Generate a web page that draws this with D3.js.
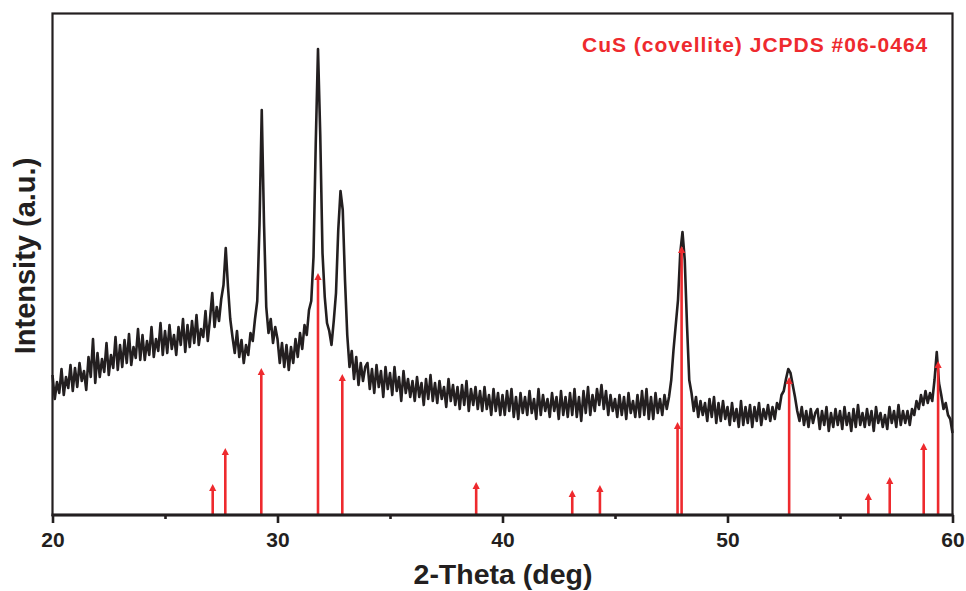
<!DOCTYPE html>
<html><head><meta charset="utf-8">
<script src="https://cdn.jsdelivr.net/npm/d3@7"></script>
<style>
body{margin:0;background:#fff;}
svg{display:block;font-family:"Liberation Sans",Arial,sans-serif;}
</style></head>
<body><svg id="c" width="966" height="591"></svg>
<script>
// Scan: 2-theta from 20 to 60 deg in 0.1 deg steps
const scanStart = 20, scanStep = 0.1;
const intensity = [
140,116,133,122,146,120,138,127,150,124,
147,128,152,134,144,125,158,138,176,132,
162,138,156,143,172,140,160,147,178,145,
170,148,175,152,181,150,168,157,186,155,
180,155,174,160,188,158,176,164,192,160,
184,162,190,166,180,160,188,170,196,163,
190,168,194,172,200,170,186,178,204,174,
196,222,188,208,194,216,230,267,228,196,
178,162,184,158,175,152,170,160,182,174,
196,214,290,405,292,208,182,196,172,188,
176,152,172,148,170,145,168,152,176,158,
182,166,190,180,205,214,258,372,466,380,
262,218,192,184,170,194,222,285,324,305,
235,180,148,164,136,158,130,152,134,148,
152,126,146,122,150,128,144,118,148,126,
142,120,148,124,138,114,144,122,136,118,
134,114,138,118,132,110,136,116,140,114,
132,112,134,116,128,108,136,114,130,110,
128,106,130,110,134,104,126,110,128,106,
124,104,128,106,120,100,126,104,122,100,
120,100,124,104,126,98,118,96,122,102,
118,100,124,102,116,96,126,100,120,104,
116,98,122,104,118,96,124,100,118,98,
122,100,126,98,118,94,124,102,128,100,
120,104,126,110,130,106,124,100,120,104,
116,98,120,100,118,96,122,102,114,98,
120,98,124,100,126,96,118,96,122,102,
116,100,120,106,118,135,165,190,215,262,
283,255,190,135,122,104,118,98,114,100,
112,94,116,98,118,92,112,94,114,96,
108,90,112,94,106,88,114,90,108,92,
110,88,108,94,112,90,106,96,110,94,
108,96,112,106,120,124,136,146,142,130,
118,104,94,108,90,104,88,106,92,102,
106,86,104,90,108,84,102,88,106,90,
104,86,108,90,102,84,106,88,110,90,
102,88,106,90,104,84,108,92,102,88,
100,86,108,92,104,88,110,90,104,92,
104,90,106,100,114,106,120,110,124,112,
122,114,135,163,132,120,106,112,100,96,
82
];
// Reference pattern CuS (covellite) JCPDS #06-0464
const refPos    = [27.12, 27.68, 29.28, 31.80, 32.88, 38.83, 43.10, 44.33, 47.78, 47.96, 52.74, 56.26, 57.21, 58.72, 59.36];
const refHeight = [30, 66, 146, 241, 140, 32, 24, 29, 92, 268, 137, 21, 37, 71, 153];
const majorTicks = [20, 30, 40, 50, 60];
const minorTicks = [25, 35, 45, 55];
const xLabel = "2-Theta (deg)";
const yLabel = "Intensity (a.u.)";
const refLabel = "CuS (covellite) JCPDS #06-0464";

const scan = intensity.map((v, i) => ({t: scanStart + i * scanStep, v}));

const L = 52.5, R = 952.5, T = 13.5, B = 515;
const svg = d3.select("#c");
const x = d3.scaleLinear().domain([20, 60]).range([L, R]);
const y = d3.scaleLinear().domain([0, 501.5]).range([B, T]);
const ink = "#231f20", red = "#ee2a2e";

// curve
svg.append("path").datum(scan)
  .attr("fill", "none").attr("stroke", ink).attr("stroke-width", 2.6)
  .attr("stroke-linejoin", "round")
  .attr("d", d3.line().x(d => x(d.t)).y(d => y(d.v)));

// reference sticks
const refs = refPos.map((p, i) => ({p, h: refHeight[i]}));
const rg = svg.append("g");
rg.selectAll("line").data(refs).join("line")
  .attr("x1", d => x(d.p)).attr("x2", d => x(d.p))
  .attr("y1", B).attr("y2", d => y(d.h) + 3)
  .attr("stroke", red).attr("stroke-width", 2.6);
rg.selectAll("path").data(refs).join("path")
  .attr("fill", red)
  .attr("d", d => { const cx = x(d.p), ty = y(d.h); return `M${cx},${ty - 1}L${cx + 3.6},${ty + 6}L${cx - 3.6},${ty + 6}Z`; });

// frame
svg.append("rect").attr("x", L).attr("y", T).attr("width", R - L).attr("height", B - T)
  .attr("fill", "none").attr("stroke", ink).attr("stroke-width", 2.2);
svg.append("line").attr("x1", L - 1).attr("x2", R + 1).attr("y1", B).attr("y2", B)
  .attr("stroke", ink).attr("stroke-width", 3);

// axes
const gMaj = svg.append("g").attr("transform", `translate(0,${B})`)
  .call(d3.axisBottom(x).tickValues(majorTicks).tickSize(8).tickPadding(9).tickFormat(d3.format("d")));
const gMin = svg.append("g").attr("transform", `translate(0,${B})`)
  .call(d3.axisBottom(x).tickValues(minorTicks).tickSize(4).tickFormat(""));
[gMaj, gMin].forEach(g => {
  g.select(".domain").remove();
  g.selectAll(".tick line").attr("stroke", ink).attr("stroke-width", 2.6);
});
gMaj.selectAll(".tick text").attr("fill", ink).attr("font-size", 21).attr("font-weight", "bold")
  .attr("font-family", "Liberation Sans, Arial, sans-serif");

// labels
svg.append("text").attr("x", 503).attr("y", 584).attr("text-anchor", "middle")
  .attr("font-size", 28.5).attr("font-weight", "bold").attr("fill", ink).text(xLabel);
svg.append("text").attr("transform", `translate(35,${256}) rotate(-90)`).attr("text-anchor", "middle")
  .attr("font-size", 29).attr("font-weight", "bold").attr("fill", ink).text(yLabel);
svg.append("text").attr("x", 582).attr("y", 52)
  .attr("font-size", 21).attr("font-weight", "bold").attr("letter-spacing", 1).attr("fill", red).text(refLabel);
</script></body></html>
